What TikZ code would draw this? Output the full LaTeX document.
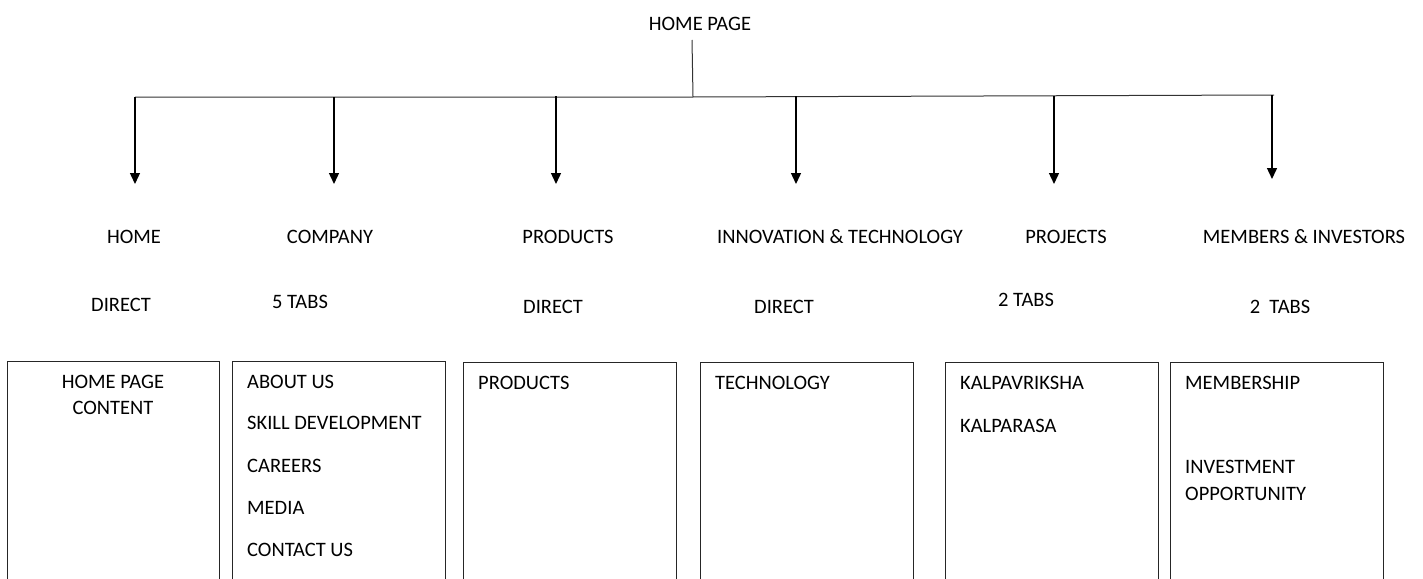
\documentclass[tikz,border=0pt]{standalone}
\usepackage{fontspec}
\setmainfont{Carlito}
\usetikzlibrary{arrows.meta}
\begin{document}
\begin{tikzpicture}[x=1pt,y=-1pt,
  lbl/.style={inner sep=0pt,anchor=base,font=\fontsize{20.5}{24}\selectfont},
  lbll/.style={lbl,anchor=base west},
  pagebox/.style={draw=black!85,line width=0.9pt,anchor=north west,inner sep=0pt},
  arr/.style={line width=1.4pt,-{Triangle[width=10pt,length=11pt]}},
  bus/.style={line width=1pt,black!80}]
\useasboundingbox (0,0) rectangle (1423,578);
\clip (0,0) rectangle (1423,578);
% top
\node[lbl] (home) at (700,31) {HOME PAGE};
\coordinate (hs) at (692,40);
\coordinate (hb) at (693,97);
\coordinate (busl) at (135,97);
\coordinate (busr) at (1274,95);
\draw[bus] (hs) -- (hb);
\draw[bus] (busl) -- (hb) -- (busr);
% arrows
\foreach \n/\x/\ya/\yb in {1/135/97/184, 2/334/97/184, 3/556/96/184, 4/796/96/184, 5/1054/96/184, 6/1272/95/179}{
  \coordinate (a\n) at (\x,\ya);
  \coordinate (e\n) at (\x,\yb);
  \draw[arr] (a\n) -- (e\n);
}
% section labels
\node[lbl] (s1) at (134,243.5) {HOME};
\node[lbl] (s2) at (330,243.5) {COMPANY};
\node[lbl] (s3) at (568,243.5) {PRODUCTS};
\node[lbl] (s4) at (840,243.5) {INNOVATION \& TECHNOLOGY};
\node[lbl] (s5) at (1066,243.5) {PROJECTS};
\node[lbl] (s6) at (1304,243.5) {MEMBERS \& INVESTORS};
% second row
\node[lbl] (t1) at (121,311.5) {DIRECT};
\node[lbl] (t2) at (300,308.5) {5 TABS};
\node[lbl] (t3) at (553,313.5) {DIRECT};
\node[lbl] (t4) at (784,313.5) {DIRECT};
\node[lbl] (t5) at (1026,306.5) {2 TABS};
\node[lbl] (t6) at (1280,313.5) {2\ \ TABS};
% boxes
\node[pagebox,minimum width=212pt,minimum height=240pt] (b1) at (7,361) {};
\node[pagebox,minimum width=213pt,minimum height=240pt] (b2) at (232,361) {};
\node[pagebox,minimum width=213pt,minimum height=240pt] (b3) at (463,362) {};
\node[pagebox,minimum width=213pt,minimum height=240pt] (b4) at (700,362) {};
\node[pagebox,minimum width=213pt,minimum height=240pt] (b5) at (945,362) {};
\node[pagebox,minimum width=213pt,minimum height=240pt] (b6) at (1170,362) {};
% box contents
\node[lbl] (c11) at (113,388.5) {HOME PAGE};
\node[lbl] (c12) at (113,414.5) {CONTENT};
\node[lbll] (c21) at (247,388.5) {ABOUT US};
\node[lbll] (c22) at (247,429.5) {SKILL DEVELOPMENT};
\node[lbll] (c23) at (247,472.5) {CAREERS};
\node[lbll] (c24) at (247,514.5) {MEDIA};
\node[lbll] (c25) at (247,556.5) {CONTACT US};
\node[lbll] (c31) at (478,389.5) {PRODUCTS};
\node[lbll] (c41) at (715,389.5) {TECHNOLOGY};
\node[lbll] (c51) at (960,389.5) {KALPAVRIKSHA};
\node[lbll] (c52) at (960,432.5) {KALPARASA};
\node[lbll] (c61) at (1185,389.5) {MEMBERSHIP};
\node[lbll] (c62) at (1185,473.5) {INVESTMENT};
\node[lbll] (c63) at (1185,500.5) {OPPORTUNITY};
\end{tikzpicture}
\end{document}
